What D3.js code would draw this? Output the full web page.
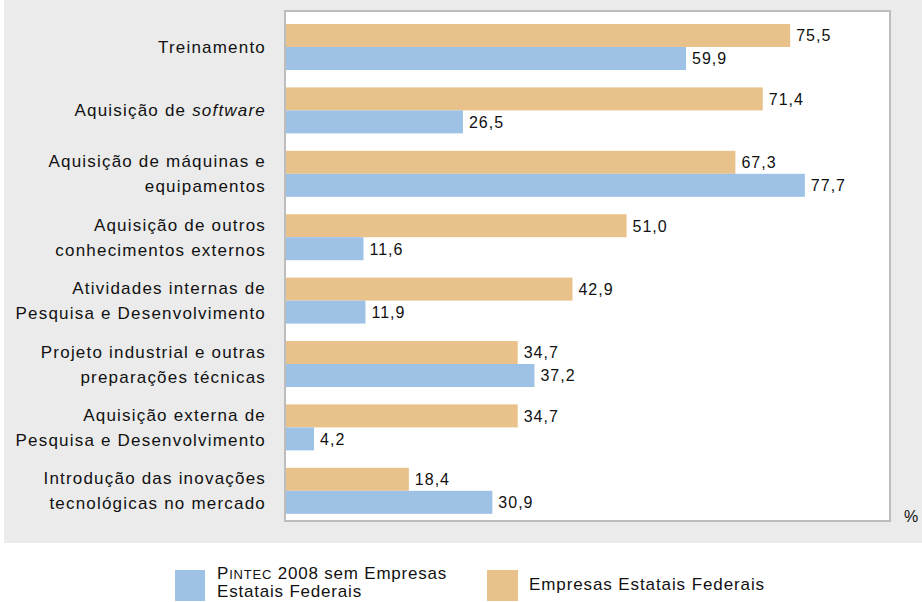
<html>
<head>
  <script src="https://d3js.org/d3.v7.min.js"></script>
  <style>
    body { margin: 0; background: white; }
    text { font-family: "Liberation Sans", Arial, sans-serif; fill: #111; }
  </style>
</head>
<body>
  <svg id="chart" width="922" height="602"></svg>
  <script>
    // categories (each label split into lines)
    const categories = [
      ["Treinamento"],
      ["Aquisição de software"],
      ["Aquisição de máquinas e", "equipamentos"],
      ["Aquisição de outros", "conhecimentos externos"],
      ["Atividades internas de", "Pesquisa e Desenvolvimento"],
      ["Projeto industrial e outras", "preparações técnicas"],
      ["Aquisição externa de", "Pesquisa e Desenvolvimento"],
      ["Introdução das inovações", "tecnológicas no mercado"]
    ];
    const estatais = [75.5, 71.4, 67.3, 51.0, 42.9, 34.7, 34.7, 18.4];
    const pintec = [59.9, 26.5, 77.7, 11.6, 11.9, 37.2, 4.2, 30.9];
    const seriesNames = ["Empresas Estatais Federais", "Pintec 2008 sem Empresas Estatais Federais"];
    const colors = { estatais: "#e9c18b", pintec: "#9dc2e6" };

    const svg = d3.select("#chart");
    const fmt = v => d3.format(".1f")(v).replace(".", ",");

    // gray panel
    svg.append("rect").attr("x", 4).attr("y", 0).attr("width", 918).attr("height", 543)
      .attr("fill", "#ebebeb");

    // plot box
    svg.append("rect").attr("x", 285).attr("y", 11).attr("width", 605).attr("height", 510)
      .attr("fill", "white").attr("stroke", "#bdbdbd").attr("stroke-width", 2);

    const keys = categories.map((d, i) => i);
    const y = d3.scaleBand().domain(keys).range([24, 513.8]).paddingInner(0.2745).paddingOuter(0).align(0);
    const ySub = d3.scaleBand().domain(["estatais", "pintec"]).range([0, y.bandwidth()]);
    const x = d3.scaleLinear().domain([0, 90]).range([286, 887]);

    const rows = keys.map(i => [
      { key: "estatais", cat: i, value: estatais[i] },
      { key: "pintec", cat: i, value: pintec[i] }
    ]);

    const g = svg.selectAll("g.group").data(rows).join("g").attr("class", "group")
      .attr("transform", (d, i) => `translate(0,${y(i)})`);

    g.selectAll("rect").data(d => d).join("rect")
      .attr("x", x(0))
      .attr("y", d => ySub(d.key))
      .attr("width", d => x(d.value) - x(0))
      .attr("height", ySub.bandwidth())
      .attr("fill", d => colors[d.key]);

    g.selectAll("text.val").data(d => d).join("text").attr("class", "val")
      .attr("x", d => x(d.value) + 6)
      .attr("y", d => ySub(d.key) + ySub.bandwidth() / 2 + 6)
      .attr("font-size", "16px")
      .attr("letter-spacing", "1px")
      .text(d => fmt(d.value));

    // category labels
    const labels = svg.selectAll("text.cat").data(categories).join("text").attr("class", "cat")
      .attr("text-anchor", "end")
      .attr("font-size", "17px")
      .attr("letter-spacing", "1.2px")
      .attr("transform", (d, i) => `translate(266,${y(i) + y.bandwidth() / 2})`);

    labels.each(function (lines) {
      const t = d3.select(this);
      lines.forEach((line, j) => {
        const dy = lines.length === 1 ? 6 : (j === 0 ? -6.5 : 18.5);
        const ts = t.append("tspan").attr("x", 0).attr("y", dy);
        if (line === "Aquisição de software") {
          ts.text("Aquisição de ");
          t.append("tspan").attr("font-style", "italic").text("software");
        } else {
          ts.text(line);
        }
      });
    });

    svg.append("text").attr("x", 904).attr("y", 522).attr("font-size", "16px").text("%");

    // legend
    const legend = svg.append("g");
    legend.append("rect").attr("x", 175).attr("y", 570).attr("width", 30).attr("height", 31)
      .attr("fill", colors.pintec);
    const lt = legend.append("text").attr("x", 217).attr("font-size", "17px").attr("letter-spacing", "0.8px");
    const l1 = lt.append("tspan").attr("x", 217).attr("y", 579);
    l1.append("tspan").text("P");
    l1.append("tspan").attr("font-size", "13px").text("INTEC");
    l1.append("tspan").text(" 2008 sem Empresas");
    lt.append("tspan").attr("x", 217).attr("y", 597).text("Estatais Federais");

    legend.append("rect").attr("x", 487).attr("y", 570).attr("width", 31).attr("height", 31)
      .attr("fill", colors.estatais);
    legend.append("text").attr("x", 529).attr("y", 590).attr("font-size", "17px")
      .attr("letter-spacing", "0.9px").text(seriesNames[0]);
  </script>
</body>
</html>
